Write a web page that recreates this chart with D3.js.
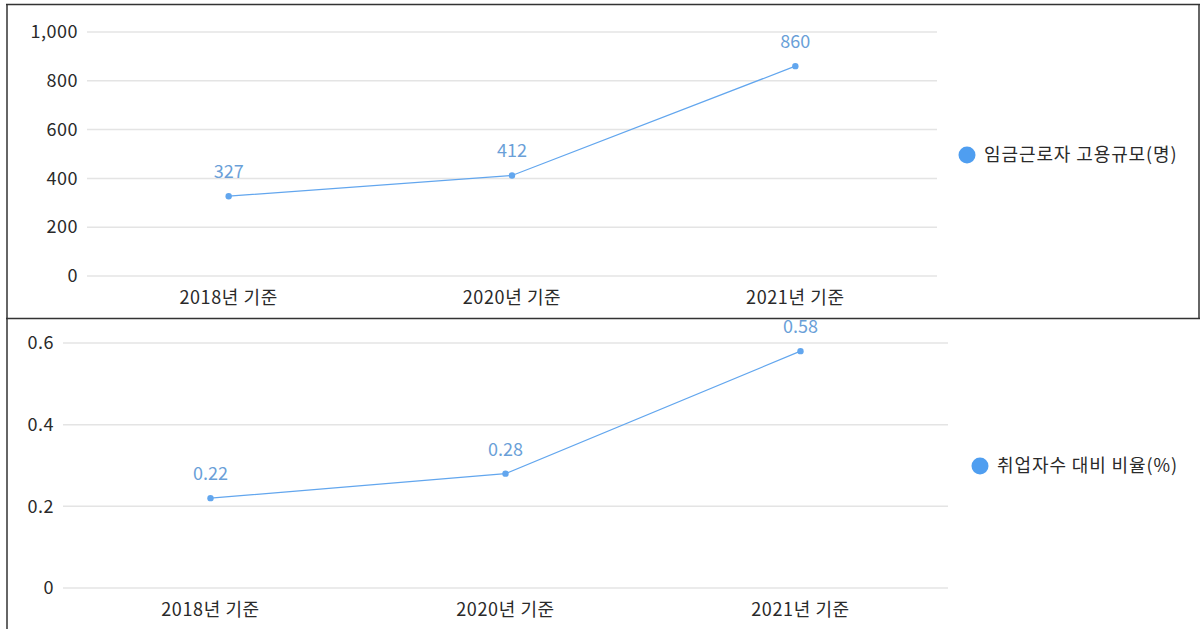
<!DOCTYPE html>
<html>
<head>
<meta charset="utf-8">
<script src="https://cdn.jsdelivr.net/npm/d3@7"></script>
<style>
  html, body { margin: 0; padding: 0; background: #fff; }
  svg { display: block; font-family: "Noto Sans CJK KR", "Noto Sans", sans-serif; }
</style>
</head>
<body>
<svg id="chart" width="1200" height="629"></svg>
<script>
// Categories shared by both panels
const categories = ["2018년 기준", "2020년 기준", "2021년 기준"];

// Panel 1: wage-worker employment size (persons)
const employmentName = "임금근로자 고용규모(명)";
const employmentValues = [327, 412, 860];
const employmentTicks = [0, 200, 400, 600, 800, 1000];

// Panel 2: ratio to total employed (%)
const ratioName = "취업자수 대비 비율(%)";
const ratioValues = [0.22, 0.28, 0.58];
const ratioTicks = [0, 0.2, 0.4, 0.6];

const lineColor = "#62a6ee";
const labelColor = "#6a9fd8";
const gridColor = "#e4e4e4";
const textColor = "#2a2a2a";

const svg = d3.select("#chart");

function panel(cfg) {
  const defs = svg.append("defs");
  defs.append("clipPath").attr("id", cfg.id)
    .append("rect")
    .attr("x", cfg.box.x0).attr("y", cfg.box.y0)
    .attr("width", cfg.box.x1 - cfg.box.x0).attr("height", cfg.box.y1 - cfg.box.y0);

  const g = svg.append("g").attr("clip-path", `url(#${cfg.id})`);

  const x = d3.scaleBand().domain(categories).range([cfg.left, cfg.right]);
  const y = d3.scaleLinear().domain(cfg.domain).range([cfg.bottom, cfg.top]);

  // horizontal gridlines
  g.append("g").selectAll("line").data(cfg.ticks).join("line")
    .attr("x1", cfg.left).attr("x2", cfg.right)
    .attr("y1", d => y(d)).attr("y2", d => y(d))
    .attr("stroke", gridColor).attr("stroke-width", 1.5);

  // y axis labels
  const yAxis = d3.axisLeft(y).tickValues(cfg.ticks).tickFormat(cfg.fmt).tickSize(0).tickPadding(cfg.yPad);
  const ya = g.append("g").attr("transform", `translate(${cfg.left},0)`).call(yAxis);
  ya.select(".domain").remove();
  ya.selectAll("text").attr("fill", textColor).style("font-size", "18px")
    .style("letter-spacing", "0.5px")
    .attr("font-family", "\"Noto Sans CJK KR\", sans-serif");

  // x axis labels
  const xAxis = d3.axisBottom(x).tickSize(0).tickPadding(cfg.xPad);
  const xa = g.append("g").attr("transform", `translate(0,${cfg.bottom})`).call(xAxis);
  xa.select(".domain").remove();
  xa.selectAll("text").attr("fill", textColor).style("font-size", "18px")
    .style("letter-spacing", "0.6px")
    .attr("font-family", "\"Noto Sans CJK KR\", sans-serif");

  const cx = d => x(d) + x.bandwidth() / 2;
  const pts = categories.map((c, i) => ({ c, v: cfg.values[i] }));

  g.append("path").datum(pts)
    .attr("fill", "none").attr("stroke", lineColor).attr("stroke-width", 1.2)
    .attr("d", d3.line().x(d => cx(d.c)).y(d => y(d.v)));

  g.append("g").selectAll("circle").data(pts).join("circle")
    .attr("cx", d => cx(d.c)).attr("cy", d => y(d.v)).attr("r", 3.2)
    .attr("fill", lineColor);

  g.append("g").selectAll("text").data(pts).join("text")
    .attr("x", d => cx(d.c)).attr("y", d => y(d.v) - 18)
    .attr("text-anchor", "middle")
    .attr("fill", labelColor).style("font-size", "18px")
    .text(d => cfg.labelFmt(d.v));

  // legend
  const lg = g.append("g").attr("transform", `translate(${cfg.legend[0]},${cfg.legend[1]})`);
  lg.append("circle").attr("r", 8.5).attr("fill", "#4f9ef0");
  lg.append("text").attr("x", 17).attr("dy", "0.35em")
    .attr("fill", textColor).style("font-size", "18px")
    .style("letter-spacing", "0.9px").text(cfg.name);
}

panel({
  id: "clipTop",
  box: { x0: 7, y0: 4, x1: 1199, y1: 318 },
  left: 87, right: 937, top: 32, bottom: 276,
  domain: [0, 1000], ticks: employmentTicks,
  fmt: d3.format(","), labelFmt: d3.format("d"),
  values: employmentValues, name: employmentName,
  yPad: 9, xPad: 15,
  legend: [967, 155]
});

panel({
  id: "clipBottom",
  box: { x0: 7, y0: 319, x1: 1200, y1: 629 },
  left: 63, right: 948, top: 343, bottom: 588,
  domain: [0, 0.6], ticks: ratioTicks,
  fmt: d => d === 0 ? "0" : d3.format(".1f")(d), labelFmt: d3.format(".2f"),
  values: ratioValues, name: ratioName,
  yPad: 9, xPad: 15,
  legend: [980, 466]
});

// panel frames
const frame = svg.append("g").attr("stroke", "#333").attr("stroke-width", 1.5).attr("fill", "none");
frame.append("line").attr("x1", 6).attr("x2", 1200).attr("y1", 4.5).attr("y2", 4.5);
frame.append("line").attr("x1", 7).attr("x2", 7).attr("y1", 4).attr("y2", 629);
frame.append("line").attr("x1", 1199).attr("x2", 1199).attr("y1", 4).attr("y2", 319);
frame.append("line").attr("x1", 6).attr("x2", 1200).attr("y1", 318.5).attr("y2", 318.5);
</script>
</body>
</html>
